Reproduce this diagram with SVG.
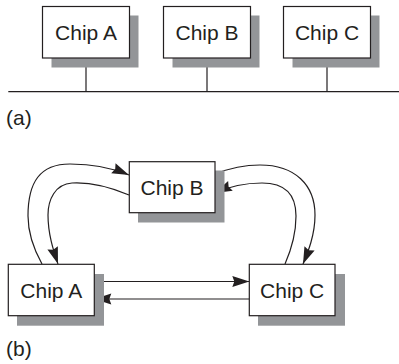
<svg xmlns="http://www.w3.org/2000/svg" width="399" height="364" viewBox="0 0 399 364">
<style>
.box{fill:#fff;stroke:#231f20;stroke-width:1.2}
.sh{fill:#939598}
.t{font-family:"Liberation Sans",Arial,sans-serif;font-size:21px;fill:#231f20;text-anchor:middle}
.lbl{font-family:"Liberation Sans",Arial,sans-serif;font-size:21px;fill:#231f20}
.ln{fill:none;stroke:#231f20;stroke-width:1.2}
</style>
<defs>
<marker id="ah" markerUnits="userSpaceOnUse" markerWidth="18" markerHeight="12" refX="17" refY="5.5" orient="auto" overflow="visible">
<path d="M0,0 L17,5.5 L0,11 L2,5.5 z" fill="#231f20"/>
</marker>
</defs>
<g id="connectors">
<line class="ln" x1="8.3" y1="91.7" x2="399" y2="91.7"/>
<line class="ln" x1="86" y1="58" x2="86" y2="91.7"/>
<line class="ln" x1="207" y1="58" x2="207" y2="91.7"/>
<line class="ln" x1="327" y1="58" x2="327" y2="91.7"/>
<path class="ln" marker-end="url(#ah)" d="M42,264 C32,246 28,230 28,216 C28,182 40,164 70,164 C95,164 115,169 129,175"/>
<path class="ln" marker-end="url(#ah)" d="M129,195 C110,187 90,182 72,183 C55,184 48,200 48,215 C48,235 54,252 58,264"/>
<path class="ln" marker-end="url(#ah)" d="M215,174 C230,168 245,165 260,165 C295,165 315,185 315,215 C315,235 308,252 303,264"/>
<path class="ln" marker-end="url(#ah)" d="M285,264 C292,248 296,232 296,216 C296,195 285,183 262,183 C245,183 228,187 215,193"/>
<line class="ln" marker-end="url(#ah)" x1="94.3" y1="281.5" x2="249.3" y2="281.5"/>
<line class="ln" marker-end="url(#ah)" x1="249.3" y1="299" x2="94.3" y2="299"/>
</g>
<g id="a-chipA">
<rect class="sh" x="51.5" y="15.5" width="87" height="52"/>
<rect class="box" x="42.5" y="6.5" width="87" height="51.5"/>
<text class="t" x="86" y="39.7">Chip A</text>
</g>
<g id="a-chipB">
<rect class="sh" x="172.5" y="15.5" width="87" height="52"/>
<rect class="box" x="163.5" y="6.5" width="87" height="51.5"/>
<text class="t" x="207" y="39.7">Chip B</text>
</g>
<g id="a-chipC">
<rect class="sh" x="292.5" y="15.5" width="87" height="52"/>
<rect class="box" x="283.5" y="6.5" width="87" height="51.5"/>
<text class="t" x="327" y="39.7">Chip C</text>
</g>
<g id="b-chipB">
<rect class="sh" x="138" y="170.5" width="86.5" height="52"/>
<rect class="box" x="129.3" y="161.7" width="85.7" height="51"/>
<text class="t" x="172" y="194.7">Chip B</text>
</g>
<g id="b-chipA">
<rect class="sh" x="17" y="274" width="87" height="51.7"/>
<rect class="box" x="8.3" y="264.3" width="86" height="51.4"/>
<text class="t" x="51.3" y="297.5">Chip A</text>
</g>
<g id="b-chipC">
<rect class="sh" x="258" y="274" width="87" height="51.7"/>
<rect class="box" x="249.3" y="264.3" width="85.7" height="51.4"/>
<text class="t" x="292.2" y="297.5">Chip C</text>
</g>
<text class="lbl" x="6" y="125">(a)</text>
<text class="lbl" x="6" y="356">(b)</text>
</svg>
